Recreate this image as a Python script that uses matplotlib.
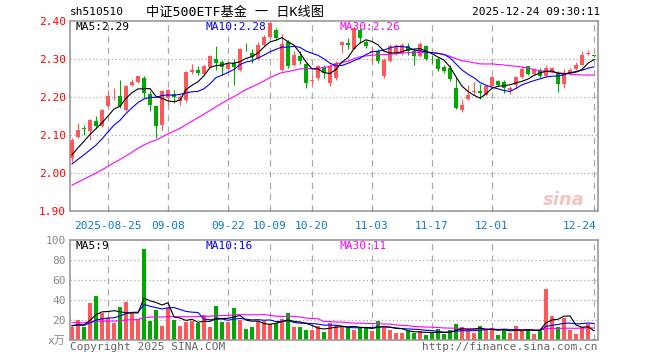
import matplotlib
matplotlib.use('agg')
import matplotlib.pyplot as plt
import numpy as np

plt.rcParams['font.family'] = ['DejaVu Sans Mono', 'Noto Sans CJK SC']

RED = '#ff5858'
GREEN = '#00a800'

# daily candles, 2025-08-15 .. 2025-12-24
opens = [2.040, 2.096, 2.118, 2.110, 2.136, 2.123, 2.177, 2.207, 2.203, 2.167,
         2.232, 2.239, 2.250, 2.209, 2.177, 2.127, 2.197, 2.209, 2.190, 2.191,
         2.265, 2.272, 2.261, 2.279, 2.300, 2.292, 2.275, 2.290, 2.270, 2.335,
         2.316, 2.301, 2.338, 2.357, 2.377, 2.272, 2.345, 2.285, 2.307, 2.287,
         2.243, 2.250, 2.278, 2.236, 2.250, 2.338, 2.341, 2.327, 2.377, 2.346,
         2.318, 2.322, 2.254, 2.294, 2.316, 2.316, 2.333, 2.322, 2.307, 2.333,
         2.305, 2.301, 2.278, 2.276, 2.225, 2.165, 2.195, 2.213, 2.217, 2.206,
         2.230, 2.243, 2.239, 2.218, 2.232, 2.253, 2.281, 2.261, 2.268, 2.256,
         2.265, 2.263, 2.235, 2.261, 2.274, 2.285, 2.313, 2.310]
highs = [2.092, 2.131, 2.127, 2.142, 2.149, 2.168, 2.218, 2.224, 2.245, 2.232,
         2.247, 2.256, 2.254, 2.215, 2.180, 2.218, 2.220, 2.219, 2.206, 2.268,
         2.288, 2.282, 2.285, 2.311, 2.335, 2.298, 2.292, 2.300, 2.329, 2.342,
         2.325, 2.346, 2.362, 2.400, 2.382, 2.365, 2.351, 2.320, 2.320, 2.289,
         2.259, 2.285, 2.285, 2.288, 2.295, 2.348, 2.354, 2.386, 2.382, 2.350,
         2.333, 2.327, 2.303, 2.339, 2.339, 2.342, 2.342, 2.325, 2.345, 2.338,
         2.310, 2.304, 2.285, 2.285, 2.250, 2.195, 2.232, 2.240, 2.235, 2.232,
         2.254, 2.246, 2.244, 2.228, 2.256, 2.281, 2.281, 2.276, 2.276, 2.283,
         2.280, 2.268, 2.274, 2.276, 2.292, 2.322, 2.323, 2.311]
lows = [2.030, 2.091, 2.100, 2.088, 2.118, 2.120, 2.175, 2.193, 2.171, 2.162,
        2.228, 2.237, 2.197, 2.162, 2.092, 2.114, 2.180, 2.184, 2.178, 2.188,
        2.261, 2.259, 2.259, 2.277, 2.270, 2.259, 2.272, 2.232, 2.268, 2.320,
        2.289, 2.298, 2.333, 2.355, 2.351, 2.269, 2.276, 2.281, 2.287, 2.224,
        2.232, 2.246, 2.250, 2.228, 2.245, 2.316, 2.327, 2.325, 2.342, 2.329,
        2.290, 2.289, 2.250, 2.292, 2.311, 2.311, 2.310, 2.285, 2.304, 2.298,
        2.290, 2.268, 2.263, 2.241, 2.169, 2.161, 2.193, 2.206, 2.195, 2.204,
        2.228, 2.228, 2.211, 2.209, 2.222, 2.250, 2.258, 2.258, 2.250, 2.253,
        2.262, 2.212, 2.224, 2.258, 2.271, 2.284, 2.310, 2.304]
closes = [2.088, 2.114, 2.116, 2.140, 2.125, 2.165, 2.203, 2.209, 2.177, 2.228,
          2.239, 2.254, 2.210, 2.180, 2.125, 2.215, 2.218, 2.200, 2.200, 2.265,
          2.272, 2.263, 2.281, 2.307, 2.290, 2.280, 2.288, 2.280, 2.327, 2.333,
          2.304, 2.336, 2.357, 2.395, 2.355, 2.339, 2.281, 2.311, 2.294, 2.237,
          2.246, 2.281, 2.263, 2.282, 2.290, 2.345, 2.338, 2.382, 2.355, 2.333,
          2.322, 2.294, 2.298, 2.333, 2.333, 2.338, 2.320, 2.307, 2.339, 2.300,
          2.304, 2.275, 2.268, 2.248, 2.171, 2.180, 2.206, 2.217, 2.211, 2.228,
          2.253, 2.232, 2.224, 2.224, 2.253, 2.274, 2.261, 2.272, 2.256, 2.276,
          2.276, 2.234, 2.261, 2.272, 2.285, 2.311, 2.315, 2.309]
# volume, 万手
volumes = [12.7, 20, 12.7, 37.3, 44, 26.7, 21.7, 16.7, 32.7, 38.3,
           26.7, 20.7, 91, 19.3, 30, 14, 31.7, 20, 14, 18.3,
           19.3, 17.3, 25, 12.7, 34, 18.3, 18.3, 32, 20, 11,
           12.7, 19.3, 19.3, 16, 16.7, 20.7, 27.3, 12.7, 12.7, 10,
           10, 14, 8.3, 16.7, 15, 13.3, 12.7, 10, 12.7, 12.7,
           9.3, 19.3, 12.7, 10, 7.3, 7.3, 9.3, 7.3, 9.3, 5,
           6.7, 10.7, 6, 10, 16, 12.7, 9.3, 7.3, 14, 10.7,
           11.7, 5, 10.7, 7.3, 14, 10, 10, 6, 9.3, 51,
           24, 13.3, 21.7, 10, 6, 12.7, 16, 1]

# earlier sessions (before the window) so the moving averages start where shown
prev_closes = [1.87, 1.88, 1.90, 1.89, 1.91, 1.92, 1.93, 1.92, 1.94, 1.95,
               1.94, 1.96, 1.95, 1.97, 1.96, 1.98, 1.97, 1.99, 1.98, 1.99,
               1.99, 2.00, 2.01, 2.00, 2.00, 2.02, 2.03, 2.05, 2.05]
prev_volumes = [18, 20, 16, 22, 19, 17, 21, 18, 20, 16,
                19, 22, 18, 17, 20, 21, 16, 19, 18, 20,
                14, 15, 13, 16, 14, 13, 15, 14, 16]

date_idx = [6, 16, 26, 33, 40, 50, 60, 70, 87]
date_labels = ['2025-08-25', '09-08', '09-22', '10-09', '10-20',
               '11-03', '11-17', '12-01', '12-24']


def moving_avg(prev, vals, n):
    allv = np.array(prev + vals, dtype=float)
    out = np.convolve(allv, np.ones(n) / n, mode='valid')
    return out[-len(vals):]


n = len(closes)
xs = np.arange(n)
up = [c >= o for o, c in zip(opens, closes)]
colors = [RED if u else GREEN for u in up]

fig = plt.figure(figsize=(6.6, 3.6), dpi=100)
ax = fig.add_axes([70 / 660, 149 / 360, 528 / 660, 190 / 360])
axv = fig.add_axes([70 / 660, 20 / 360, 528 / 660, 100 / 360])

for a in (ax, axv):
    a.set_xlim(-2 / 6, n - 1 + 4 / 6)
    for s in a.spines.values():
        s.set_color('#999999')
        s.set_linewidth(1.2)
    for d in date_idx:
        a.axvline(d, color='#aaaaaa', linestyle=(0, (5, 4)), linewidth=0.9, zorder=0)
    a.set_xticks([])

# candles
bottoms = [min(o, c) for o, c in zip(opens, closes)]
heights = [max(abs(c - o), 0.0015) for o, c in zip(opens, closes)]
ax.vlines(xs, lows, highs, colors=colors, linewidth=0.8, zorder=2)
ax.bar(xs, heights, bottom=bottoms, width=0.7, color=colors, linewidth=0, zorder=3)

ma_colors = {5: 'black', 10: '#0000ff', 30: '#ff00ff'}
for k in (30, 10, 5):
    ax.plot(xs, moving_avg(prev_closes, closes, k), color=ma_colors[k], linewidth=0.8, zorder=4)

ax.set_ylim(1.90, 2.40)
ax.set_yticks([1.90, 2.00, 2.10, 2.20, 2.30, 2.40])
ax.set_yticklabels(['%.2f' % v for v in [1.90, 2.00, 2.10, 2.20, 2.30, 2.40]])
ax.tick_params(axis='y', length=0, labelcolor='red', labelsize=8, pad=3)
for v in [2.00, 2.10, 2.20, 2.30]:
    ax.axhline(v, color='#aaaaaa', linestyle=(0, (1, 2)), linewidth=0.9, zorder=0)

# date ticks and labels
for d in date_idx:
    ax.plot([d, d], [1.90, 1.905], color='#999999', linewidth=0.9, clip_on=False)
for d, lab in zip(date_idx, date_labels):
    ha = 'right' if d == n - 1 else 'center'
    ax.text(d + (0.4 if d == n - 1 else 0), 1.86, lab, color='#0a7ad6', fontsize=8,
            ha=ha, va='center')

ax.text(0.6, 2.385, 'MA5:2.29', color='black', fontsize=8, va='center')
ax.text(22.3, 2.385, 'MA10:2.28', color='#0000ff', fontsize=8, va='center')
ax.text(44.5, 2.385, 'MA30:2.26', color='#ff00ff', fontsize=8, va='center')
ax.text(85.5, 1.93, 'sina', color='#f3c4c4', fontsize=13, fontweight='bold',
        fontstyle='italic', ha='right', va='center', family='DejaVu Sans', zorder=1)

# volume
axv.bar(xs, volumes, width=0.82, color=colors, linewidth=0, zorder=2)
for k in (30, 10, 5):
    axv.plot(xs, moving_avg(prev_volumes, volumes, k), color=ma_colors[k], linewidth=0.8, zorder=3)
axv.set_ylim(0, 100)
axv.set_yticks([0, 20, 40, 60, 80, 100])
axv.set_yticklabels(['x万', '20', '40', '60', '80', '100'])
axv.tick_params(axis='y', length=0, labelcolor='#888888', labelsize=8, pad=3)
for v in [20, 40, 60, 80]:
    axv.axhline(v, color='#aaaaaa', linestyle=(0, (1, 2)), linewidth=0.9, zorder=0)
axv.text(0.6, 94, 'MA5:9', color='black', fontsize=8, va='center')
axv.text(22.3, 94, 'MA10:16', color='#0000ff', fontsize=8, va='center')
axv.text(44.5, 94, 'MA30:11', color='#ff00ff', fontsize=8, va='center')
axv.text(-0.3, -7, 'Copyright 2025 SINA.COM', color='#666666', fontsize=8, va='center')
axv.text(n - 1 + 0.6, -7, 'http://finance.sina.com.cn', color='#666666', fontsize=8,
         ha='right', va='center')

# header
fig.text(70 / 660, 1 - 12 / 360, 'sh510510', fontsize=8, va='center')
fig.text(235 / 660, 1 - 12 / 360, '中证500ETF基金 一 日K线图', fontsize=9.5, ha='center', va='center')
fig.text(600 / 660, 1 - 12 / 360, '2025-12-24 09:30:11', fontsize=8, ha='right', va='center')

fig.savefig('out.png', dpi=100)
plt.close()
